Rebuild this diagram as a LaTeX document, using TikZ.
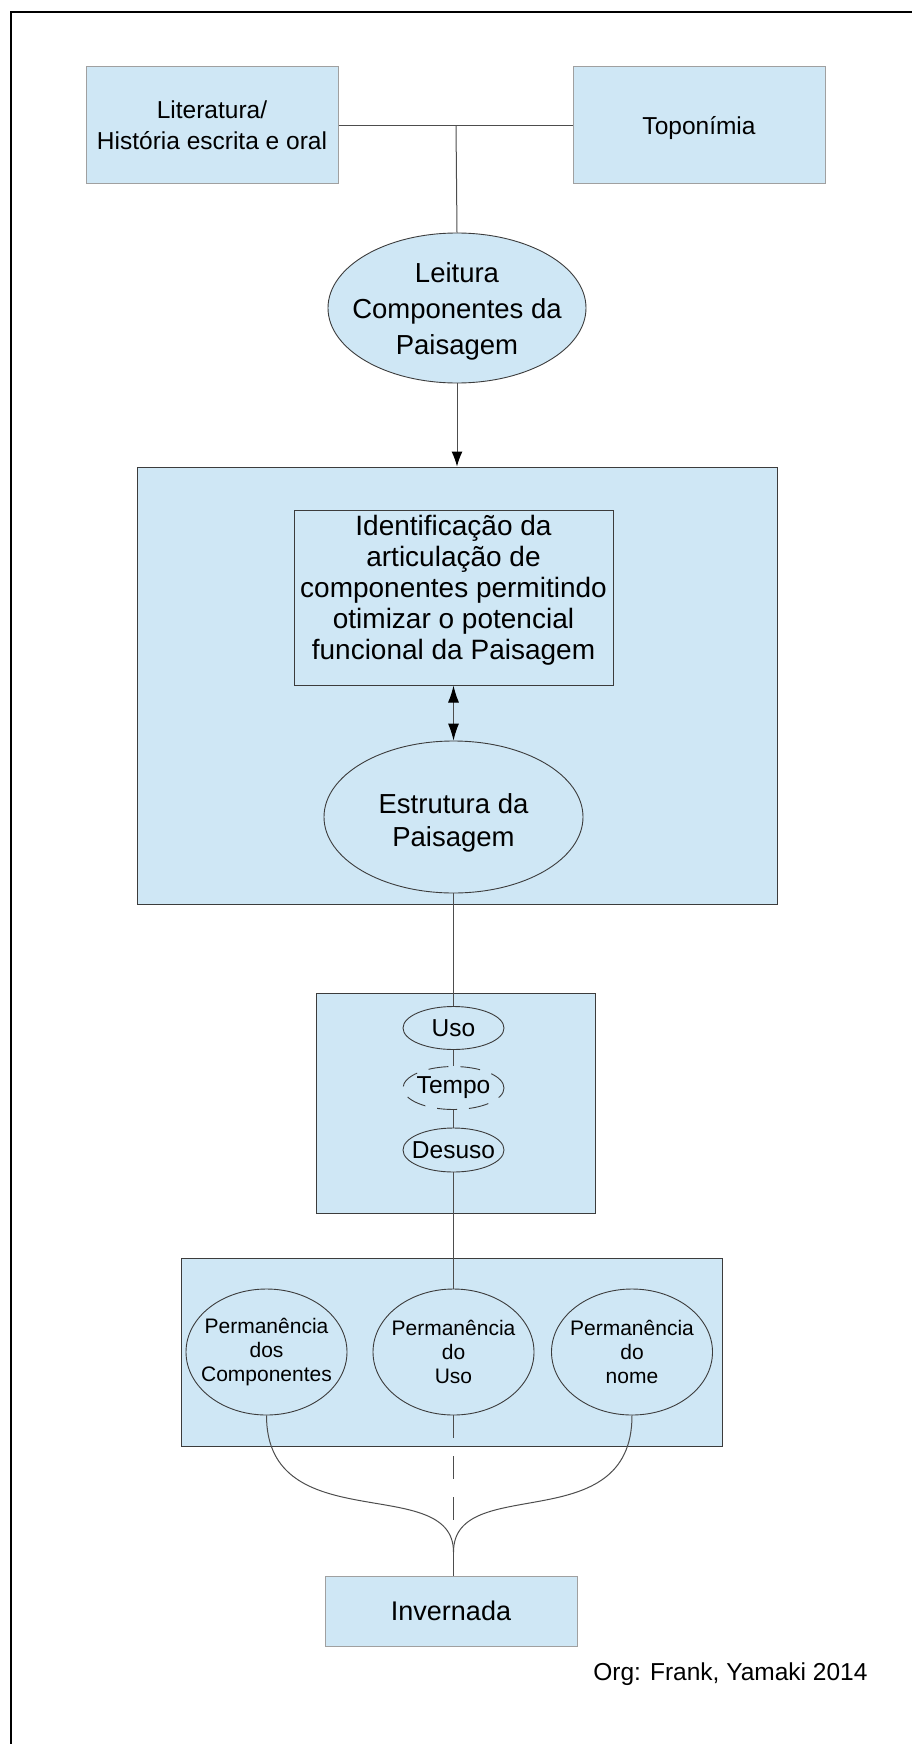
\documentclass[tikz,border=0pt]{standalone}
\usepackage{fontspec}
\setmainfont{Liberation Sans}
\usetikzlibrary{shapes.geometric,arrows.meta}
\definecolor{paisagem}{HTML}{CFE7F5}
\definecolor{bordaclara}{HTML}{A0A0A0}
\definecolor{bordaescura}{HTML}{3C3C3C}
\definecolor{ligacao}{HTML}{4D4D4D}
\def\fonte#1#2{\fontsize{#1pt}{#2pt}\selectfont}
\tikzset{
	caixa/.style={rectangle, draw=bordaclara, fill=paisagem, line width=1pt, inner sep=0pt, align=center},
	moldura/.style={rectangle, draw=bordaescura, fill=paisagem, line width=1pt, inner sep=0pt, align=center},
	oval/.style={ellipse, draw=bordaescura, fill=paisagem, line width=0.9pt, inner sep=0pt, align=center},
	ligar/.style={draw=ligacao, line width=1pt},
	seta/.style={-{Latex[length=15pt,width=11pt,color=black]}},
	dupla/.style={{Latex[length=17pt,width=11pt,color=black]}-{Latex[length=17pt,width=11pt,color=black]}},
}

\begin{document}
\begin{tikzpicture}[x=1pt,y=-1pt]
			%%%%% START %%%%%
			
			\useasboundingbox (0,0) rectangle (912,1744);
			\draw[line width=2pt] (10.5,1744) -- (10.5,12.5) -- (912,12.5);
			
			\node[caixa, minimum width=252pt, minimum height=117pt, text depth=0pt, font=\fonte{24.5}{31}] (literatura) at (212,125.5) {Literatura/\\História escrita e oral};
			\node[caixa, minimum width=252pt, minimum height=117pt, text depth=0pt, font=\fonte{24.5}{31}] (toponimia) at (699,125.5) {Toponímia};
			\coordinate (juncao) at (456,126);
			
			\node[oval, minimum width=258pt, minimum height=150pt, inner xsep=-20pt, text height=99pt, font=\fonte{27.5}{36}] (leitura) at (457,308) {Leitura\\Componentes da\\Paisagem};
			
			\draw[ligar] (literatura.east |- juncao) -- (toponimia.west |- juncao);
			\draw[ligar] (juncao) -- (leitura.north);
			
			\node[moldura, minimum width=640pt, minimum height=437pt] (estudo) at (457,685.5) {};
			\draw[ligar, seta] (leitura.south) -- (leitura.south |- estudo.north);
			
			\node[moldura, minimum width=319pt, minimum height=175pt, text depth=20pt, font=\fonte{28}{31}] (identificacao) at (453.5,597.5) {Identificação da\\articulação de\\componentes permitindo\\otimizar o potencial\\funcional da Paisagem};
			\node[oval, minimum width=259pt, minimum height=152pt, text height=64pt, font=\fonte{27.5}{33}] (estrutura) at (453.5,817) {Estrutura da\\Paisagem};
			\draw[ligar, dupla] (identificacao.south) -- (estrutura.north);
			
			\node[moldura, minimum width=279pt, minimum height=220pt] (ciclo) at (455.5,1103) {};
			\node[oval, minimum width=101pt, minimum height=43pt, inner xsep=-10pt, font=\fonte{24.5}{28}] (uso) at (453.5,1028) {Uso};
			\node[oval, dash pattern=on 20pt off 12pt, minimum width=101pt, minimum height=43pt, inner xsep=-10pt, font=\fonte{24.5}{28}] (tempo) at (453.5,1088) {Tempo};
			\node[oval, minimum width=101pt, minimum height=44pt, inner xsep=-10pt, font=\fonte{24.5}{28}] (desuso) at (453.5,1150) {Desuso};
			
			\draw[ligar] (estrutura.south) -- (uso.north);
			\draw[ligar] (uso.south) -- (tempo.north);
			\draw[ligar] (tempo.south) -- (desuso.north);
			
			\node[moldura, minimum width=541pt, minimum height=188pt] (permanencia) at (451.5,1352) {};
			\node[oval, minimum width=161pt, minimum height=126pt, inner xsep=-12pt, font=\fonte{21}{24.2}] (perm-componentes) at (266.5,1352) {Permanência\\dos\\Componentes};
			\node[oval, minimum width=161pt, minimum height=126pt, inner xsep=-12pt, font=\fonte{21}{24.2}] (perm-uso) at (453.5,1352) {Permanência\\do\\Uso};
			\node[oval, minimum width=161pt, minimum height=126pt, inner xsep=-12pt, font=\fonte{21}{24.2}] (perm-nome) at (632,1352) {Permanência\\do\\nome};
			\draw[ligar] (desuso.south) -- (perm-uso.north);
			
			\node[caixa, minimum width=252pt, minimum height=70pt, font=\fonte{27}{31}] (invernada) at (451,1611) {Invernada};
			\coordinate (encontro) at (453.5,1552);
			\coordinate (tracejado) at (453.5,1525);
			
			\draw[ligar] (perm-componentes.south) .. controls +(0,125) and +(0,-80) .. (encontro);
			\draw[ligar] (perm-nome.south) .. controls +(0,125) and +(0,-80) .. (encontro);
			\draw[ligar, dash pattern=on 23pt off 18pt] (perm-uso.south) -- (tracejado);
			\draw[ligar] (encontro) -- (encontro |- invernada.north);
			
			\node[font=\fonte{24.5}{29}, anchor=east] (autoria) at (871,1674) {Org: Frank, Yamaki 2014};
			
			%%%%% END %%%%%
\end{tikzpicture}
\end{document}
